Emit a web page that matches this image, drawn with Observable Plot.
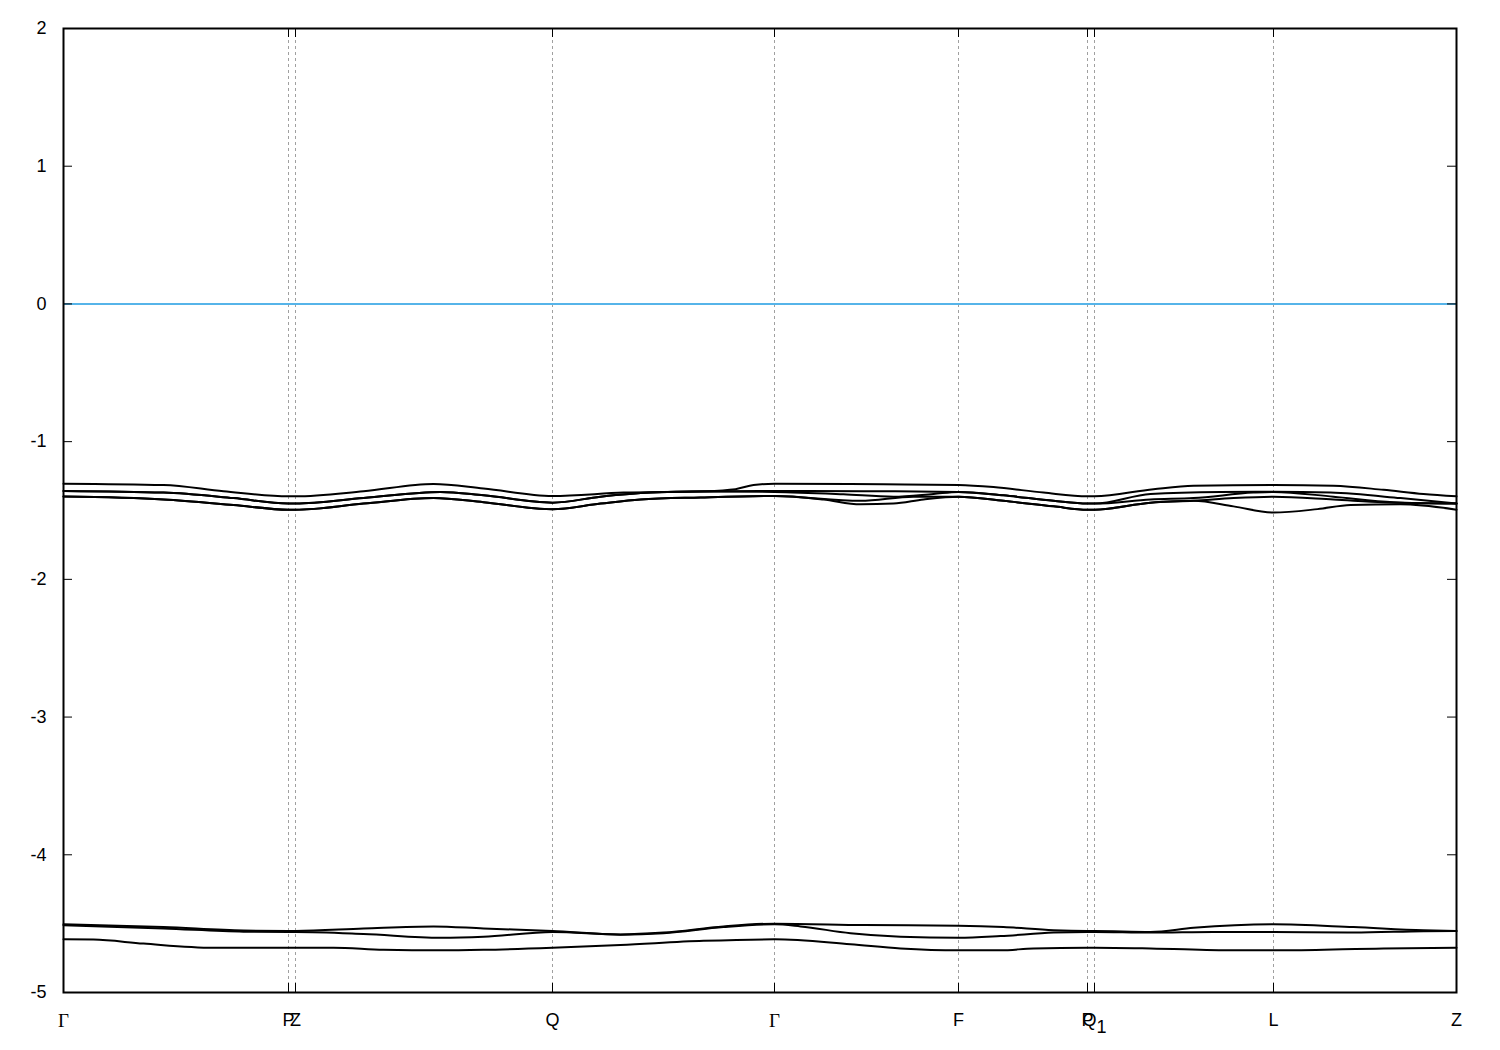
<!DOCTYPE html>
<html>
<head>
<meta charset="utf-8">
<script src="https://cdn.jsdelivr.net/npm/d3@7"></script>
<script src="https://cdn.jsdelivr.net/npm/@observablehq/plot@0.6"></script>
<style>
  html, body { margin: 0; padding: 0; background: #fff; }
  #chart svg { display: block; }
</style>
</head>
<body>
<div id="chart"></div>
<script>
// High-symmetry points along the k-path (path length units)
const kLabels = ["Γ", "P", "Z", "Q", "Γ", "F", "P", "Q1", "L", "Z"];
const kPos = [0, 225, 232, 489, 711, 895, 1024, 1031, 1210, 1393];
const yTicks = [-5, -4, -3, -2, -1, 0, 1, 2];
const fermi = [0];

// Upper band group (energy in eV), [k, E]
const bandU1 = [[0,-1.305],[100,-1.315],[160,-1.36],[225,-1.397],[232,-1.397],[300,-1.36],[370,-1.307],[420,-1.34],[489,-1.394],[560,-1.37],[640,-1.36],[672,-1.345],[690,-1.315],[711,-1.305],[820,-1.31],[895,-1.315],[930,-1.33],[980,-1.37],[1024,-1.397],[1031,-1.397],[1090,-1.345],[1130,-1.32],[1210,-1.314],[1270,-1.32],[1320,-1.35],[1360,-1.38],[1393,-1.397]];
const bandU2 = [[0,-1.358],[100,-1.37],[170,-1.41],[225,-1.45],[232,-1.45],[300,-1.41],[377,-1.365],[420,-1.39],[489,-1.443],[537,-1.40],[587,-1.37],[637,-1.362],[711,-1.358],[800,-1.36],[895,-1.365],[940,-1.39],[990,-1.43],[1024,-1.45],[1031,-1.45],[1087,-1.38],[1157,-1.365],[1210,-1.363],[1267,-1.37],[1337,-1.41],[1393,-1.45]];
const bandU3 = [[0,-1.399],[100,-1.42],[170,-1.46],[225,-1.494],[232,-1.494],[300,-1.45],[370,-1.409],[420,-1.44],[489,-1.491],[537,-1.45],[577,-1.42],[637,-1.405],[711,-1.394],[760,-1.42],[797,-1.455],[830,-1.45],[860,-1.42],[895,-1.40],[940,-1.43],[990,-1.47],[1024,-1.494],[1031,-1.494],[1087,-1.443],[1130,-1.43],[1170,-1.47],[1210,-1.515],[1254,-1.49],[1287,-1.46],[1337,-1.455],[1393,-1.494]];
const bandU4 = [[0,-1.358],[100,-1.37],[170,-1.41],[225,-1.45],[232,-1.45],[300,-1.41],[377,-1.365],[420,-1.39],[489,-1.443],[537,-1.40],[587,-1.37],[637,-1.362],[711,-1.365],[780,-1.382],[830,-1.40],[870,-1.38],[895,-1.365],[940,-1.39],[990,-1.43],[1024,-1.45],[1031,-1.45],[1087,-1.42],[1130,-1.41],[1190,-1.37],[1210,-1.365],[1270,-1.40],[1330,-1.44],[1393,-1.45]];
const bandU5 = [[0,-1.399],[100,-1.42],[170,-1.46],[225,-1.494],[232,-1.494],[300,-1.45],[370,-1.409],[420,-1.44],[489,-1.491],[537,-1.45],[577,-1.42],[637,-1.405],[711,-1.394],[797,-1.43],[850,-1.40],[895,-1.40],[940,-1.43],[990,-1.47],[1024,-1.494],[1031,-1.494],[1087,-1.443],[1130,-1.43],[1170,-1.41],[1210,-1.40],[1270,-1.42],[1320,-1.44],[1393,-1.45]];

// Lower band group
const bandL1 = [[0,-4.505],[100,-4.525],[180,-4.55],[225,-4.553],[232,-4.553],[300,-4.535],[370,-4.52],[420,-4.535],[489,-4.553],[557,-4.578],[600,-4.565],[660,-4.52],[711,-4.50],[800,-4.51],[895,-4.515],[940,-4.525],[990,-4.548],[1024,-4.553],[1031,-4.553],[1087,-4.56],[1130,-4.53],[1210,-4.505],[1290,-4.525],[1360,-4.548],[1393,-4.553]];
const bandL2 = [[0,-4.512],[100,-4.535],[180,-4.558],[225,-4.561],[232,-4.561],[300,-4.575],[377,-4.602],[420,-4.595],[489,-4.56],[557,-4.58],[600,-4.57],[660,-4.525],[711,-4.505],[737,-4.52],[787,-4.57],[837,-4.595],[895,-4.602],[937,-4.59],[990,-4.565],[1024,-4.56],[1031,-4.56],[1087,-4.565],[1150,-4.56],[1210,-4.561],[1290,-4.565],[1360,-4.555],[1393,-4.553]];
const bandL3 = [[0,-4.614],[30,-4.616],[80,-4.645],[150,-4.675],[225,-4.675],[232,-4.675],[270,-4.675],[320,-4.69],[377,-4.694],[420,-4.69],[489,-4.675],[557,-4.655],[640,-4.625],[711,-4.614],[787,-4.65],[837,-4.68],[895,-4.694],[937,-4.694],[970,-4.68],[1024,-4.675],[1031,-4.675],[1087,-4.68],[1170,-4.694],[1220,-4.694],[1320,-4.68],[1393,-4.675]];

const bands = [bandU1, bandU2, bandU3, bandU4, bandU5, bandL1, bandL2, bandL3];
const rows = bands.flatMap((b, i) => b.map(([k, e]) => ({band: i, k, e})));

const W = 1500, H = 1050;
const mL = 63, mR = 44, mT = 28, mB = 58;
const innerW = W - mL - mR, innerH = H - mT - mB;
const tickLen = 9;

const gammaIdx = kPos.map((d, i) => i).filter(i => kLabels[i] === "Γ");
const otherIdx = kPos.map((d, i) => i).filter(i => kLabels[i] !== "Γ");

const chart = Plot.plot({
  width: W, height: H,
  marginLeft: mL, marginRight: mR, marginTop: mT, marginBottom: mB,
  style: {fontFamily: "'Liberation Sans', Arial, sans-serif", fontSize: "18px", background: "#fff"},
  x: {domain: [kPos[0], kPos[kPos.length - 1]], axis: null, label: null},
  y: {domain: [-5, 2], axis: null, label: null},
  marks: [
    Plot.ruleX(kPos.slice(1, -1), {stroke: "#a0a0a0", strokeWidth: 1, strokeDasharray: "3,3"}),
    Plot.ruleY(fermi, {stroke: "#56b4e9", strokeWidth: 2}),
    Plot.line(rows, {x: "k", y: "e", z: "band", curve: "monotone-x", stroke: "black", strokeWidth: 2}),
    // inward ticks on all four sides
    Plot.tickY(yTicks, {y: d => d, insetRight: innerW - tickLen, stroke: "black", strokeWidth: 1}),
    Plot.tickY(yTicks, {y: d => d, insetLeft: innerW - tickLen, stroke: "black", strokeWidth: 1}),
    Plot.tickX(kPos, {x: d => d, insetTop: innerH - tickLen, stroke: "black", strokeWidth: 1}),
    Plot.tickX(kPos, {x: d => d, insetBottom: innerH - tickLen, stroke: "black", strokeWidth: 1}),
    Plot.frame({stroke: "black", strokeWidth: 2}),
    Plot.axisY(yTicks, {tickSize: 0, tickPadding: 17, tickFormat: d => String(d), fontSize: 18, label: null}),
    Plot.text(otherIdx, {x: i => kPos[i], text: i => kLabels[i], frameAnchor: "bottom", dy: 28, lineAnchor: "middle", fontSize: 18, fill: "black"}),
    Plot.text(gammaIdx, {x: i => kPos[i], text: i => kLabels[i], frameAnchor: "bottom", dy: 28, lineAnchor: "middle", fontSize: 19, fill: "black", fontFamily: "'Liberation Serif', 'DejaVu Serif', serif"})
  ]
});

// subscript for Q1
d3.select(chart).selectAll("text").each(function() {
  const t = d3.select(this);
  if (t.text() === "Q1") {
    t.text("Q");
    t.append("tspan").attr("dy", "0.35em").attr("font-size", "18").text("1");
  }
});

document.getElementById("chart").appendChild(chart);
</script>
</body>
</html>
